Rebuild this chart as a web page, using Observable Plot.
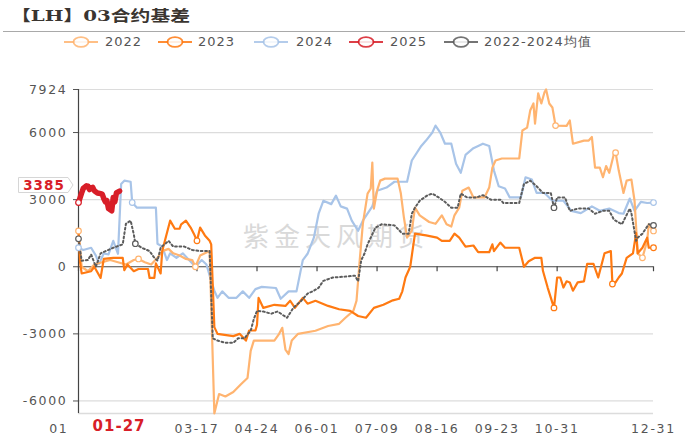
<!DOCTYPE html>
<html><head><meta charset="utf-8">
<script src="https://cdn.jsdelivr.net/npm/d3@7"></script>
<script src="https://cdn.jsdelivr.net/npm/@observablehq/plot@0.6"></script>
<style>
body{margin:0;background:#fff;}
#wrap{position:relative;width:688px;height:447px;overflow:hidden;font-family:"DejaVu Sans",sans-serif;background:#fff;}
#title{position:absolute;left:11px;top:4px;font-family:"DejaVu Serif","Noto Sans CJK SC",serif;font-weight:bold;font-size:15px;color:#3a3530;transform:scaleX(1.32);transform-origin:0 50%;white-space:nowrap;}
#rule{position:absolute;left:3px;top:31px;width:682px;border-top:1px solid #a9a9a9;}
.lg{position:absolute;top:34px;height:16px;}
.lt{position:absolute;top:34px;font-size:13px;line-height:16px;color:#555;letter-spacing:1px;white-space:nowrap;}
#wm{position:absolute;left:243px;top:216px;font-family:"Noto Sans CJK SC",sans-serif;font-size:26px;letter-spacing:5px;color:#d9d9d9;white-space:nowrap;}
#chart{position:absolute;left:0;top:50px;}
#xlab{position:absolute;left:70px;top:415px;width:92px;height:22px;color:#d81e28;font-weight:bold;font-size:15px;line-height:22px;text-align:center;letter-spacing:1px;}
#ylab{position:absolute;left:16px;}
</style></head><body>
<div id="wrap">
  <div id="title">【LH】03合约基差</div>
  <div id="rule"></div>
  <div id="legend"></div>
  <div id="wm">紫金天风期货</div>
  <div id="chart"></div>
  <div id="xlab"></div>
  <svg id="ylab" width="60" height="20"></svg>
</div>
<script>
// ---- data: [day of year index (0 = 01-01), basis value] ----
const s2022 = [[0,1600],[2,0],[6,-200],[10,100],[15,200],[20,300],[25,200],[30,100],[35,300],[38,350],[42,200],[46,100],[50,400],[53,700],[57,800],[60,600],[64,500],[68,350],[72,300],[74,0],[77,500],[80,600],[83,700],[86,-6560],[89,-5690],[93,-5800],[98,-5600],[103,-5240],[107,-4970],[109,-3760],[111,-3300],[124,-3300],[127,-3000],[129,-2730],[131,-3700],[133,-3900],[135,-3300],[139,-3000],[150,-2860],[158,-2650],[165,-2550],[169,-2280],[174,-1970],[176,-1520],[178,270],[180,1920],[183,3270],[185,3500],[186,4660],[187,2600],[189,3400],[191,3850],[194,3940],[202,3940],[204,3300],[206,2200],[208,1300],[211,1610],[213,2640],[216,2300],[222,2000],[226,1920],[230,2300],[233,1900],[236,1800],[238,2300],[241,2640],[243,3400],[247,3540],[250,3100],[257,3100],[260,3540],[262,4430],[264,4750],[268,4840],[279,4840],[281,6090],[284,6220],[286,7000],[288,7300],[289,6400],[291,7750],[293,7300],[295,7800],[296,7924],[298,7300],[300,7120],[302,6310],[309,6300],[311,6540],[313,5500],[320,5640],[323,5640],[325,5800],[327,4430],[330,4430],[332,4000],[334,4500],[336,4200],[339,5060],[340,5100],[342,4300],[345,3300],[347,3850],[350,3900],[352,2950],[354,600],[357,400],[360,1160],[361,1900],[364,1600]];
const s2023 = [[0,1600],[1,200],[2,-300],[8,-200],[10,0],[14,-500],[16,350],[22,400],[28,400],[29,-150],[31,100],[35,-200],[38,-100],[44,-100],[45,-500],[48,-500],[49,150],[52,-300],[53,700],[58,2060],[61,1700],[64,1700],[65,1900],[68,2060],[71,1750],[73,1480],[75,1160],[77,1750],[80,1400],[83,1160],[84,1000],[86,-2700],[88,-3000],[98,-3100],[102,-3000],[106,-3300],[108,-2850],[112,-2850],[113,-2600],[114,-1390],[117,-1840],[124,-1700],[131,-1750],[134,-1520],[137,-1840],[142,-1390],[145,-1650],[150,-1520],[158,-1750],[165,-1900],[172,-1970],[177,-2200],[182,-2280],[187,-1840],[193,-1700],[199,-1500],[203,-1430],[205,-1100],[207,-480],[210,0],[213,1480],[220,1400],[227,1300],[230,1160],[235,1160],[238,1480],[241,1300],[245,900],[250,950],[253,650],[260,650],[262,1000],[263,700],[267,1080],[270,850],[279,850],[282,0],[285,250],[289,400],[293,400],[294,-180],[297,-930],[301,-1840],[303,-480],[305,-480],[307,-930],[309,-650],[311,-700],[313,-1070],[316,-700],[320,-650],[322,130],[326,130],[329,-480],[333,600],[337,700],[338,-770],[340,-700],[342,-480],[344,-300],[347,400],[351,600],[353,1500],[354,600],[357,850],[360,1300],[361,850],[364,850]];
const s2024 = [[0,850],[3,750],[8,850],[11,500],[13,130],[16,600],[19,550],[22,1160],[25,580],[27,3700],[29,3850],[33,3800],[34,2870],[37,2640],[49,2640],[50,1030],[53,900],[56,300],[58,600],[62,400],[66,600],[70,300],[74,0],[78,300],[81,100],[84,-630],[86,-1070],[88,-1390],[91,-1100],[95,-1390],[100,-1390],[104,-1100],[108,-1390],[112,-1000],[116,-900],[125,-950],[128,-1430],[133,-1100],[138,-1100],[142,300],[145,580],[149,1300],[152,2370],[155,2950],[160,2800],[163,3180],[166,2700],[170,2600],[173,2060],[177,1610],[180,2060],[186,2700],[189,3400],[195,3540],[200,3800],[208,3800],[211,4750],[217,5400],[220,5640],[224,6000],[226,6310],[229,6000],[232,5500],[236,5500],[239,4600],[242,4200],[245,5000],[250,5300],[256,5500],[260,5400],[263,4300],[266,3600],[270,3500],[273,3100],[280,3100],[283,4000],[287,3900],[290,3300],[295,3300],[300,2950],[307,2950],[312,2500],[318,2400],[325,2700],[330,2500],[336,2600],[342,2400],[345,2370],[349,3050],[352,2500],[356,2900],[360,2850],[364,2870]];
const s2025 = [[0,2870],[2,3300],[3,3500],[5,3620],[6,3600],[7,3450],[9,3550],[10,3400],[12,3300],[14,3270],[15,3250],[16,3050],[17,2900],[18,2950],[19,2600],[21,2500],[22,3100],[23,2900],[24,3300],[26,3385]];
const sAvg = [[0,1250],[2,270],[6,300],[8,550],[11,0],[14,600],[22,850],[28,1000],[30,1920],[33,2060],[35,1450],[36,1030],[40,850],[45,700],[48,400],[50,270],[52,850],[57,1160],[60,900],[67,900],[72,750],[77,700],[83,700],[85,-3200],[88,-3300],[93,-3400],[98,-3400],[101,-3200],[105,-3200],[109,-2860],[111,-2330],[113,-1970],[117,-2000],[122,-2100],[126,-2000],[132,-2280],[136,-1840],[141,-1520],[145,-1200],[149,-1070],[152,-940],[155,-630],[161,-480],[167,-450],[175,-400],[177,-650],[179,300],[181,580],[183,1000],[185,1300],[188,1750],[192,1900],[200,1850],[205,1480],[209,1480],[211,2370],[213,2640],[216,2950],[221,3200],[224,3270],[228,3100],[232,2900],[236,2640],[240,2640],[242,3270],[246,3100],[252,3100],[256,3200],[261,3000],[267,3000],[269,2850],[279,2850],[282,3700],[286,3850],[290,3600],[294,3300],[299,3300],[301,2640],[303,3100],[308,3100],[311,2500],[316,2600],[323,2600],[327,2370],[332,2500],[336,2500],[339,2100],[344,1900],[349,2600],[350,2400],[353,1160],[354,1300],[357,1480],[361,1900],[364,1850]];

const seriesNames = ["2022","2023","2024","2025","2022-2024均值"];
const seriesColors = ["#ffb470","#ff7a12","#a8c4e8","#d81e28","#5c5c5c"];
// hollow marker points [series index, day]
const markerPts = [[0,0],[0,38],[0,74],[0,302],[0,340],[0,357],[0,364],[1,75],[1,301],[1,338],[1,364],[2,0],[2,34],[2,364],[3,0],[4,0],[4,36],[4,301],[4,364]];

const xTickDays = [0,75,113,151,189,227,265,303,364];
const xTickLabels = ["01","03-17","04-24","06-01","07-09","08-16","09-23","10-31","12-31"];
const highlightDay = 26, highlightLabel = "01-27";
const yTicks = [7924,6000,3000,0,-3000,-6000];
const yDomain = [-6560,7924];

const lookup = [s2022,s2023,s2024,s2025,sAvg];
const toRows = (s, k) => s.map(([d,v]) => ({day:d, v, k}));
const drawOrder = [2,0,1,4,3];
const markers = markerPts
  .map(([k,d]) => { const p = lookup[k].find(q => q[0] === d); return p ? {k, day:d, v:p[1]} : null; })
  .filter(Boolean);

const H = 397, mT = 39, mB = 34;
const tickLen = 5 * (yDomain[1]-yDomain[0]) / (H - mT - mB);
const xLabelRows = xTickDays.map((d,i) => ({day: d, label: xTickLabels[i], first: i === 0}));

const chart = Plot.plot({
  width: 688, height: H, marginTop: mT, marginBottom: mB, marginLeft: 78, marginRight: 35,
  style: {background: "transparent", fontFamily: "DejaVu Sans", fontSize: "12.5px", color: "#555", letterSpacing: "1.7px", overflow: "visible"},
  x: {domain: [0,364], axis: null},
  y: {domain: yDomain, ticks: yTicks, tickFormat: d => String(d), tickSize: 5, tickPadding: 6, label: null},
  marks: [
    Plot.ruleY(yTicks.filter(v => v !== 0), {stroke: "#dcdcdc", strokeWidth: 1.2}),
    Plot.ruleY([yDomain[0]], {stroke: "#dcdcdc", strokeWidth: 1.5}),
    Plot.ruleY([0], {stroke: "#444", strokeWidth: 1.2}),
    Plot.ruleX(xTickDays, {y1: 0, y2: -tickLen, stroke: "#444", strokeWidth: 1.2}),
    Plot.ruleX([0], {stroke: "#444", strokeWidth: 1.2}),
    Plot.text(xLabelRows.filter(d => !d.first), {x: "day", text: "label", frameAnchor: "bottom", dy: 19, fill: "#555"}),
    Plot.text(xLabelRows.filter(d => d.first), {x: "day", text: "label", frameAnchor: "bottom", dy: 19, dx: -10, textAnchor: "end", fill: "#555"}),
    ...drawOrder.map(k => {
      const rows = toRows(lookup[k], k);
      if (k === 4) return Plot.line(rows, {x: "day", y: "v", stroke: seriesColors[4], strokeWidth: 2, strokeDasharray: "1.8,2.6"});
      if (k === 3) return Plot.line(rows, {x: "day", y: "v", stroke: seriesColors[3], strokeWidth: 5.5, strokeLinejoin: "round"});
      return Plot.line(rows, {x: "day", y: "v", stroke: seriesColors[k], strokeWidth: 2.2});
    }),
    Plot.dot(markers, {x: "day", y: "v", r: 2.8, fill: "white", stroke: d => seriesColors[d.k], strokeWidth: 1.2})
  ]
});
document.getElementById("chart").appendChild(chart);

// legend
const legend = document.getElementById("legend");
const symX = [63,157,253,348,443], txtX = [105,198,296,390,484];
seriesNames.forEach((name, i) => {
  const c = seriesColors[i];
  const s = document.createElementNS("http://www.w3.org/2000/svg","svg");
  s.setAttribute("class","lg"); s.setAttribute("width","36"); s.setAttribute("height","16");
  s.style.left = symX[i] + "px";
  s.innerHTML = `<line x1="1" x2="35" y1="8" y2="8" stroke="${c}" stroke-width="2" opacity="0.85"/><ellipse cx="18" cy="8" rx="7.5" ry="4.8" fill="white" stroke="${c}" stroke-width="1.8" opacity="0.85"/>`;
  legend.appendChild(s);
  const t = document.createElement("div");
  t.className = "lt"; t.style.left = txtX[i] + "px"; t.textContent = name;
  legend.appendChild(t);
});

// highlighted x label (last 2025 date)
const xl = document.getElementById("xlab");
xl.textContent = highlightLabel;
const xScale = d3.scaleLinear().domain([0,364]).range([78,653]);
xl.style.left = (xScale(highlightDay) - 46) + "px";

// last value tag on y axis
const last = s2025[s2025.length-1][1];
const yScale = d3.scaleLinear().domain(yDomain).range([413,89]);
const yl = document.getElementById("ylab");
const cy = yScale(last) - 6;
yl.style.top = (cy - 10) + "px";
yl.innerHTML = `<path d="M2.5,2.5 H52 L57,10 L52,17.5 H2.5 Z" fill="white" stroke="#d6d6d6" stroke-width="1"/><text x="28" y="14.8" text-anchor="middle" font-family="DejaVu Sans" font-weight="bold" font-size="13.5" letter-spacing="1" fill="#d81e28">${last}</text>`;
</script>
</body></html>
